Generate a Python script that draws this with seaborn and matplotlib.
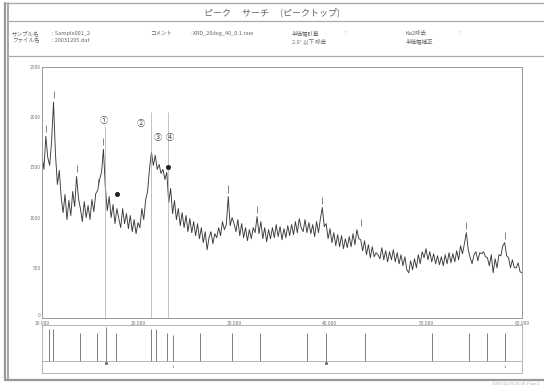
import matplotlib
matplotlib.use('Agg')
import matplotlib.pyplot as plt
import seaborn as sns
import numpy as np
import pandas as pd
from matplotlib.lines import Line2D

sns.set_theme(style='white')
plt.rcParams['font.family'] = ['Noto Sans CJK JP', 'DejaVu Sans']

# ---------------- data ----------------
title_text = "ピーク　 サーチ　 (ピークトップ)"
header_row1 = [("サンプル名", 12), (": Sample001_2", 52), ("コメント", 150), (": XRD_20deg_40_0.1.raw", 190),
               ("半価幅計算", 292), (":", 345), ("Kα2除去", 406), (":", 460)]
header_row2 = [("ファイル名", 12), (": 20031205.dat", 52), ("2.0° 以下 除去", 292), ("半価幅補正", 406)]

two_theta = np.linspace(10, 60, 251)
intensity = [
    1620, 1480, 1810, 1600, 1520, 1760, 2150, 1640, 1330, 1470,
    1200, 1050, 1230, 980, 1170, 1020, 1260, 1110, 1410, 1190,
    1090, 960, 1160, 1000, 1120, 980, 1180, 1060, 1240, 1270,
    1380, 1450, 1680, 1300, 1070, 1210, 1000, 1130, 940, 1090,
    990, 900, 1090, 940, 1040, 890, 1020, 860, 980, 840,
    950, 900, 1090, 980, 1180, 1260, 1490, 1650, 1520, 1620,
    1480, 1530, 1440, 1480, 1380, 1450, 1150, 1290, 1040, 1170,
    980, 1090, 920, 1050, 900, 1020, 860, 990, 850, 960,
    820, 940, 790, 900, 750, 860, 680, 800, 860, 740,
    840, 800, 900, 820, 960, 880, 930, 1210, 920, 1000,
    940, 860, 980, 820, 940, 800, 900, 770, 880, 790,
    900, 850, 1010, 840, 960, 790, 900, 760, 880, 790,
    900, 800, 930, 810, 910, 780, 890, 800, 920, 820,
    930, 830, 960, 850, 990, 900, 860, 980, 850, 950,
    840, 930, 810, 960, 850, 990, 1100, 910, 940, 790,
    890, 750, 850, 720, 830, 710, 820, 690, 790, 700,
    810, 710, 840, 730, 880, 790, 780, 670, 770, 630,
    730, 600, 710, 610, 650, 630, 590, 700, 580, 670,
    560, 660, 580, 680, 560, 650, 540, 630, 520, 610,
    480, 450, 570, 480, 590, 500, 630, 540, 660, 600,
    690, 580, 660, 560, 640, 540, 620, 530, 610, 520,
    630, 540, 650, 550, 640, 560, 670, 580, 720, 640,
    740, 850, 680, 600, 540, 630, 660, 570, 650, 640,
    660, 610, 600, 520, 630, 450, 590, 500, 630, 620,
    720, 750, 620, 600, 500, 580, 500, 500, 550, 460,
    450,
]

x_ticks = [10, 20, 30, 40, 50, 60]
x_tick_labels = ["10.000", "20.000", "30.000", "40.000", "50.000", "60.000"]
y_ticks = [0, 500, 1000, 1500, 2000, 2500]
y_tick_labels = ["0", "500", "1000", "1500", "2000", "2500"]

# labelled peaks (small marks above)
peak_pos = [10.4, 11.2, 13.6, 15.8, 16.4, 29.4, 32.4, 39.2, 43.2, 54.2, 58.2]
peak_top = [1810, 2150, 1410, 1270, 1680, 1210, 1010, 1100, 880, 850, 750]

# circled identification markers
circle_pos = [16.4, 20.3, 22.1, 23.3]
circle_y = [1970, 1940, 1800, 1800]
circle_lab = ["①", "②", "③", "④"]
guide_pos = [16.6, 21.4, 23.1]
guide_top = [1910, 2050, 2050]

mark_pos = [17.85, 23.1]
mark_y = [1240, 1500]

# reference stick pattern
stick_pos = [10.7, 11.15, 14.0, 15.75, 16.7, 17.7, 21.4, 21.9, 23.0, 23.6,
             26.5, 29.8, 32.7, 37.6, 39.6, 43.6, 50.6, 54.5, 56.4, 58.2]
stick_h = [0.92, 0.92, 0.83, 0.83, 0.95, 0.83, 0.92, 0.92, 0.83, 0.80,
           0.83, 0.83, 0.83, 0.83, 0.83, 0.83, 0.83, 0.83, 0.83, 0.83]

df = pd.DataFrame({"two_theta": two_theta, "intensity": intensity})

# ---------------- figure ----------------
W, H = 544, 385
fig = plt.figure(figsize=(W / 100, H / 100), dpi=100)
fig.patch.set_facecolor('white')

def fx(x):
    return x / W

def fy(y):
    return 1 - y / H

def fline(x0, y0, x1, y1, lw=0.8, color='#888888'):
    fig.add_artist(Line2D([fx(x0), fx(x1)], [fy(y0), fy(y1)], transform=fig.transFigure,
                          color=color, lw=lw))

grey = '#777777'
txt = '#666666'

# outer frame
fline(4.5, 3, 4.5, 380, lw=1.6, color='#999999')
fline(7.5, 3, 7.5, 380, lw=1.2, color='#999999')
fline(4.5, 3, 544, 3, lw=1.0, color='#aaaaaa')
fline(4.5, 380, 544, 380, lw=1.6, color='#999999')
fline(7.5, 21, 544, 21, lw=0.9, color='#aaaaaa')
fline(7.5, 56, 544, 56, lw=0.9, color='#aaaaaa')

fig.text(fx(272), fy(12), title_text, ha='center', va='center', fontsize=6.5, color=txt)
for s, x in header_row1:
    fig.text(fx(x), fy(33), s, ha='left', va='center', fontsize=4, color=txt)
for s, x in header_row2:
    fig.text(fx(x), fy(41), s, ha='left', va='center', fontsize=4, color=txt)
fig.text(fx(540), fy(383.5), "2003/12/05 15:30  Page 1", ha='right', va='center', fontsize=3, color='#aaaaaa')

# main axes: x 42..522, y 67..318
ax = fig.add_axes([fx(42), fy(318), (522 - 42) / W, (318 - 67) / H])
sns.lineplot(data=df, x="two_theta", y="intensity", ax=ax, color='#3a3a3a', linewidth=0.65)
ax.set_xlim(10, 60)
ax.set_ylim(0, 2500)
ax.set_xticks(x_ticks)
ax.set_xticklabels(x_tick_labels)
ax.set_yticks(y_ticks)
ax.set_yticklabels(y_tick_labels)
ax.tick_params(axis='both', direction='in', length=2, width=0.5, colors=grey, labelsize=3.5, pad=1)
ax.tick_params(axis='x', pad=2)
ax.get_yticklabels()[0].set_va('bottom')
ax.set_xlabel("")
ax.set_ylabel("")
for sp in ax.spines.values():
    sp.set_color('#999999')
    sp.set_linewidth(0.7)

ax.vlines(guide_pos, 0, guide_top, color='#aaaaaa', lw=0.5)
ax.vlines(peak_pos, [t + 40 for t in peak_top], [t + 110 for t in peak_top], color='#555555', lw=0.5)
for p, yv, lab in zip(circle_pos, circle_y, circle_lab):
    ax.text(p, yv, lab, ha='center', va='center', fontsize=6, color='#555555')
ax.plot(mark_pos, mark_y, linestyle='none', marker='o', ms=2.6, color='#222222')

# stick panel: x 42..522, y 325..373
ax2 = fig.add_axes([fx(42), fy(373), (522 - 42) / W, (373 - 325) / H])
ax2.set_xlim(10, 60)
ax2.set_ylim(0, 1)
ax2.vlines(stick_pos, 0.25, stick_h, color='#666666', lw=0.6)
ax2.axhline(0.25, color='#999999', lw=0.5)
ax2.set_xticks([])
ax2.set_yticks([])
for sp in ax2.spines.values():
    sp.set_color('#aaaaaa')
    sp.set_linewidth(0.6)
ax2.text(23.6, 0.12, "1", ha='center', va='center', fontsize=3, color='#666666')
ax2.text(58.2, 0.12, "1", ha='center', va='center', fontsize=3, color='#666666')
ax2.plot([16.7, 39.6], [0.2, 0.2], linestyle='none', marker='o', ms=1.2, color='#666666')

fig.savefig("out.png", dpi=100, facecolor='white')
